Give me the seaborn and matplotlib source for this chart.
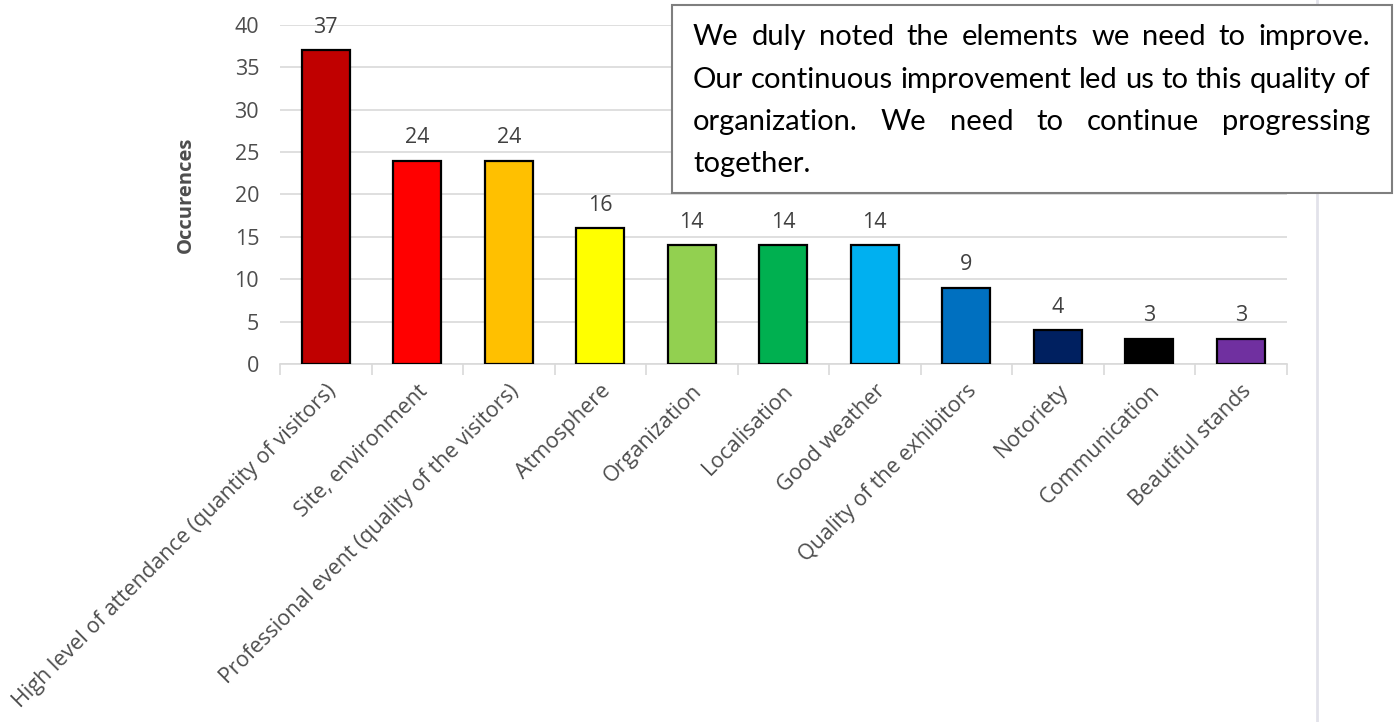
import matplotlib
matplotlib.use("Agg")
import matplotlib.pyplot as plt
from matplotlib.patches import Rectangle
from matplotlib.lines import Line2D
import seaborn as sns
import pandas as pd

# ---- data ----
categories = [
    "High level of attendance (quantity of visitors)",
    "Site, environment",
    "Professional event (quality of the visitors)",
    "Atmosphere",
    "Organization",
    "Localisation",
    "Good weather",
    "Quality of the exhibitors",
    "Notoriety",
    "Communication",
    "Beautiful stands",
]
occurrences = [37, 24, 24, 16, 14, 14, 14, 9, 4, 3, 3]
bar_colors = ["#C00000", "#FF0000", "#FFC000", "#FFFF00", "#92D050", "#00B050",
              "#00B0F0", "#0070C0", "#002060", "#000000", "#7030A0"]
y_ticks = [0, 5, 10, 15, 20, 25, 30, 35, 40]
y_title = "Occurences"
note_lines = [
    "We duly noted the elements we need to improve.",
    "Our continuous improvement led us to this quality of",
    "organization. We need to continue progressing",
    "together.",
]

sns.set_theme(style="white")
plt.rcParams["font.family"] = ["Open Sans", "DejaVu Sans"]

W, H = 1400, 722
fig = plt.figure(figsize=(W / 100, H / 100), dpi=100)
ax = fig.add_axes([280 / W, 1 - 364 / H, (1286.5 - 280) / W, (364 - 25) / H])

df = pd.DataFrame({"category": categories, "value": occurrences})
sns.barplot(data=df, x="category", y="value", hue="category",
            palette=dict(zip(categories, bar_colors)), legend=False,
            width=0.52, edgecolor="black", linewidth=1.6, saturation=1, ax=ax, zorder=3)

ax.set_ylim(0, 40)
ax.set_xlim(-0.5, len(categories) - 0.5)
ax.set_yticks(y_ticks)
ax.yaxis.grid(True, color="#d9d9d9", linewidth=1.2, zorder=0)
ax.set_axisbelow(True)
for s in ["top", "right", "left"]:
    ax.spines[s].set_visible(False)
ax.spines["bottom"].set_color("#d9d9d9")
ax.spines["bottom"].set_linewidth(1.2)

label_color = "#4d4d4d"
tick_fs = 15.5
ax.tick_params(axis="y", length=0, labelsize=tick_fs, labelcolor=label_color, pad=15)
ax.set_xticks(range(len(categories)))
ax.set_xticklabels(categories, rotation=45, ha="right", rotation_mode="anchor",
                   fontsize=tick_fs, color=label_color)
ax.tick_params(axis="x", which="major", length=0, pad=12)
ax.set_xticks([i - 0.5 for i in range(len(categories) + 1)], minor=True)
ax.tick_params(axis="x", which="minor", length=8, width=1.2, color="#d9d9d9", bottom=True)
ax.set_xlabel("")
ax.set_ylabel(y_title, fontsize=14.5, fontweight="bold", color=label_color, labelpad=28)

for i, v in enumerate(occurrences):
    ax.annotate(str(v), (i, v), xytext=(0, 9), textcoords="offset points",
                ha="center", va="bottom", fontsize=tick_fs, color="#404040")

# thin vertical separator on the right edge
fig.add_artist(Line2D([1317 / W, 1317 / W], [0, 1], transform=fig.transFigure,
                      color="#e2e2ea", linewidth=2, zorder=1))

# note box with justified text
bx0, by0, bx1, by1 = 672, 5, 1392, 193
fig.add_artist(Rectangle((bx0 / W, 1 - by1 / H), (bx1 - bx0) / W, (by1 - by0) / H,
                         transform=fig.transFigure, facecolor="white",
                         edgecolor="#7f7f7f", linewidth=1.5, zorder=5))

renderer = fig.canvas.get_renderer()
tx0, tx1 = 693, 1370
avail = tx1 - tx0
baselines = [45, 88, 130, 172]
note_font = ["Lato", "DejaVu Sans"]


def measure(word, size):
    t = fig.text(0, 0, word, fontsize=size, family=note_font)
    w = t.get_window_extent(renderer).width
    t.remove()
    return w

fs = 30
space_w = measure("a a", fs) - measure("aa", fs)
natural = max(sum(measure(w, fs) for w in ln.split()) + space_w * (len(ln.split()) - 1)
              for ln in note_lines)
if natural > avail:
    fs = fs * avail / natural
space_w = measure("a a", fs) - measure("aa", fs)

for li, line in enumerate(note_lines):
    words = line.split()
    widths = [measure(w, fs) for w in words]
    last = li == len(note_lines) - 1
    if last or len(words) == 1:
        gap = space_w
    else:
        gap = (avail - sum(widths)) / (len(words) - 1)
    x = tx0
    for w, wd in zip(words, widths):
        fig.text(x / W, 1 - baselines[li] / H, w, fontsize=fs, color="black",
                 family=note_font, ha="left", va="baseline", zorder=6)
        x += wd + gap

fig.savefig("out.png", dpi=100)
